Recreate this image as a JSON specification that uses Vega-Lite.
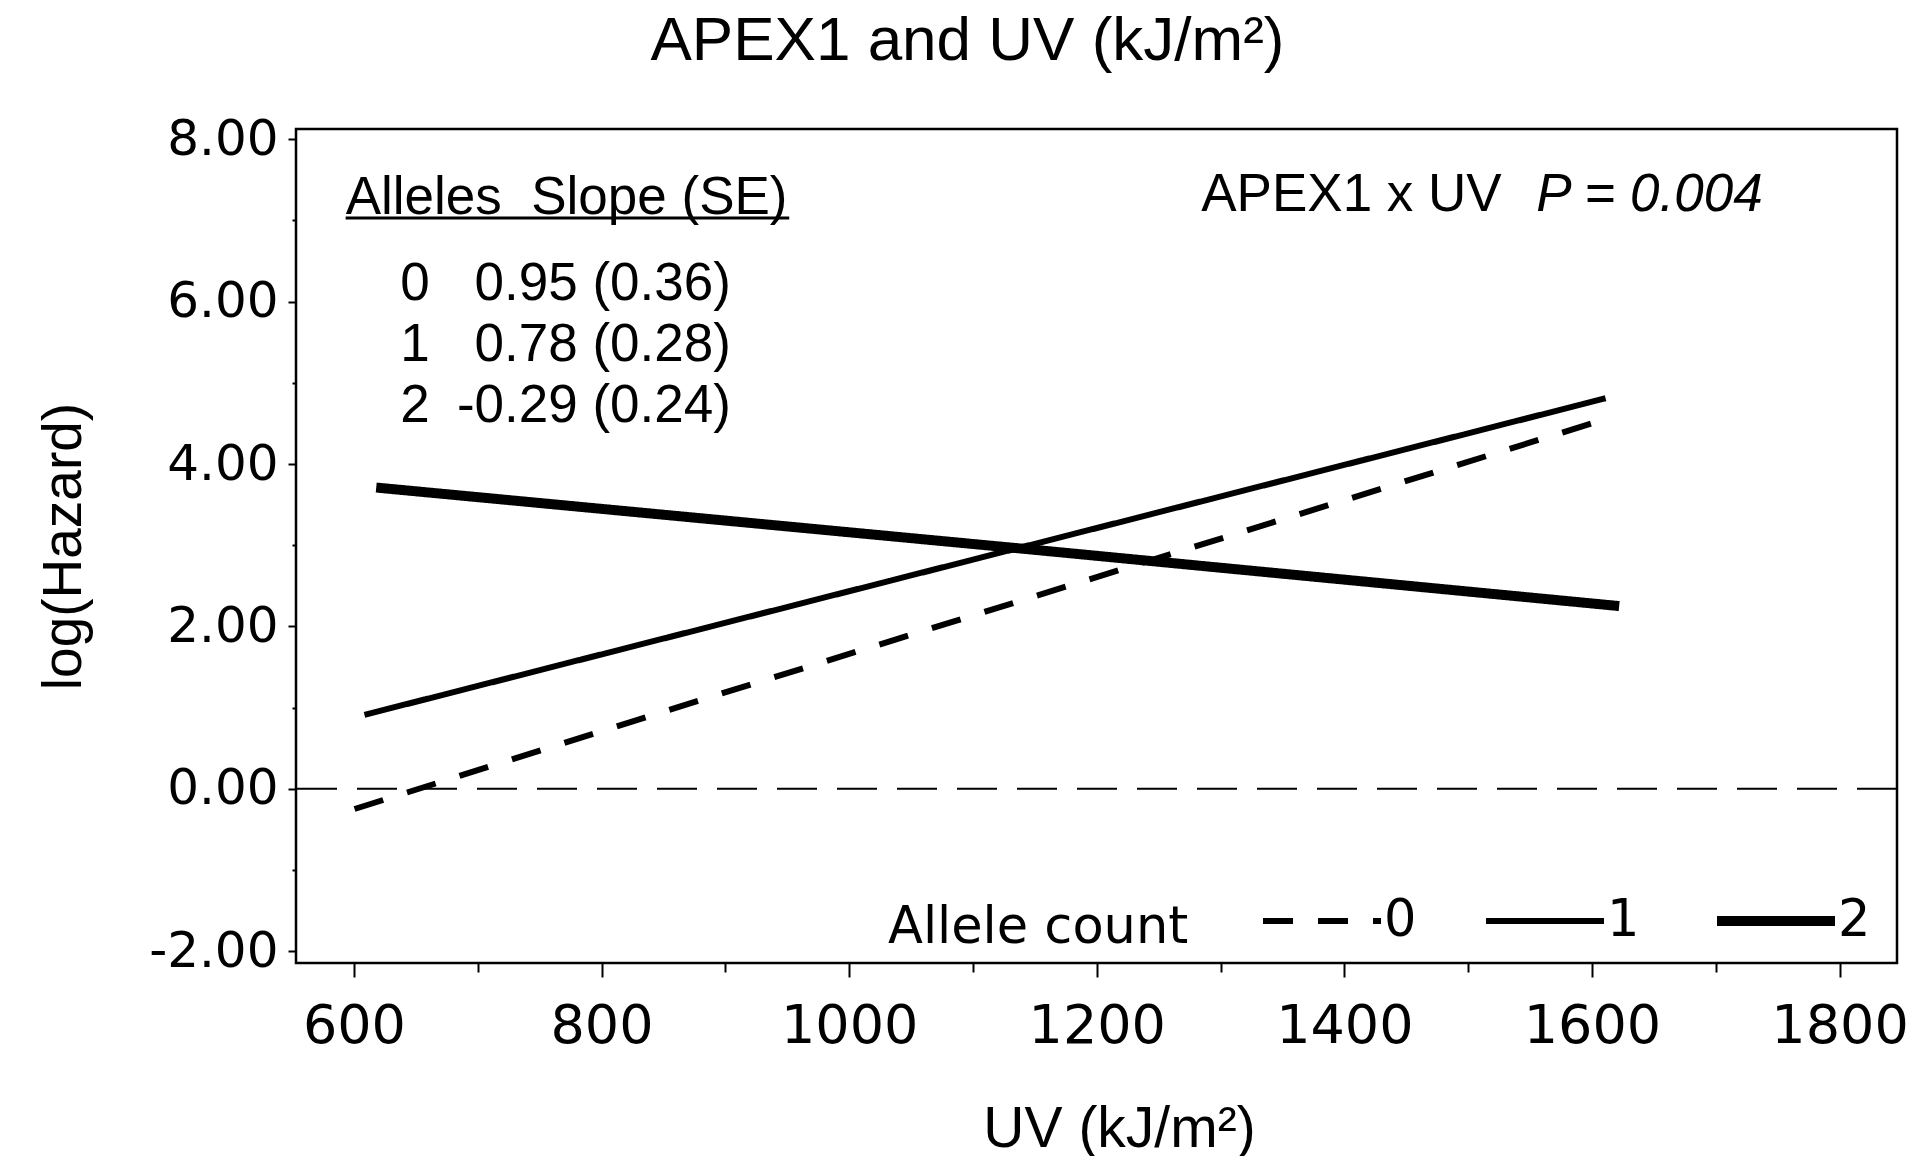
{
  "$schema": "https://vega.github.io/schema/vega-lite/v6.json",
  "autosize": {"type": "none"},
  "width": 1601,
  "height": 834,
  "padding": {"left": 296, "top": 129, "right": 23, "bottom": 193},
  "background": "white",
  "title": {"text": "APEX1 and UV (kJ/m²)", "font": "Liberation Sans", "fontSize": 62, "fontWeight": "normal", "color": "black", "anchor": "middle", "frame": "group", "dx": -129, "baseline": "alphabetic", "offset": -8},
  "config": {
    "view": {"stroke": "black", "strokeWidth": 2.5},
    "axis": {"domain": false, "grid": false, "tickColor": "black", "tickWidth": 2, "labelColor": "black", "titleColor": "black"}
  },
  "data": {"values": [
    {"uv": 600.5, "loghaz": -0.25, "allele": "0"},
    {"uv": 888, "loghaz": 1.13, "allele": "0"},
    {"uv": 1606, "loghaz": 4.53, "allele": "0"},
    {"uv": 608.5, "loghaz": 0.91, "allele": "1"},
    {"uv": 1138, "loghaz": 2.97, "allele": "1"},
    {"uv": 1611, "loghaz": 4.81, "allele": "1"},
    {"uv": 618, "loghaz": 3.71, "allele": "2"},
    {"uv": 1138, "loghaz": 2.96, "allele": "2"},
    {"uv": 1622, "loghaz": 2.25, "allele": "2"}
  ]},
  "layer": [
    {
      "data": {"values": [{}]},
      "mark": {"type": "rule", "strokeDash": [40, 20], "strokeWidth": 2, "color": "black"},
      "encoding": {"y": {"datum": 0, "type": "quantitative"}}
    },
    {
      "mark": {"type": "line", "color": "black", "strokeCap": "butt"},
      "encoding": {
        "x": {"field": "uv", "type": "quantitative",
          "scale": {"domain": [553.2, 1846.4], "nice": false, "zero": false},
          "axis": {"title": "UV (kJ/m²)", "values": [600, 700, 800, 900, 1000, 1100, 1200, 1300, 1400, 1500, 1600, 1700, 1800],
            "format": "d", "labelExpr": "datum.value % 200 === 0 ? datum.label : ''",
            "labelFont": "DejaVu Sans", "labelFontSize": 54, "labelBaseline": "alphabetic", "labelPadding": 65,
            "tickSize": {"condition": {"test": "datum.value % 200 === 0", "value": 14}, "value": 9},
            "titleFont": "Liberation Sans", "titleFontSize": 57, "titleFontWeight": "normal",
            "titleX": 823, "titleY": 183, "titleBaseline": "alphabetic", "titleAlign": "center"}},
        "y": {"field": "loghaz", "type": "quantitative",
          "scale": {"domain": [-2.147, 8.127], "nice": false, "zero": false},
          "axis": {"title": "log(Hazard)", "values": [-2, -1, 0, 1, 2, 3, 4, 5, 6, 7, 8],
            "labelExpr": "datum.value % 2 === 0 ? replace(format(datum.value, '.2f'), '\u2212', '-') : ''",
            "labelFont": "DejaVu Sans", "labelFontSize": 50, "labelPadding": 10,
            "tickSize": {"condition": {"test": "datum.value % 2 === 0", "value": 8}, "value": 4},
            "titleFont": "Liberation Sans", "titleFontSize": 55, "titleFontWeight": "normal",
            "titleX": -216, "titleY": 417, "titleAngle": 270, "titleBaseline": "alphabetic", "titleAlign": "center"}},
        "strokeDash": {"field": "allele", "type": "ordinal",
          "scale": {"domain": ["0", "1", "2"], "range": [[30, 25], [1, 0], [1, 0]]},
          "legend": {"title": "Allele count", "orient": "none", "legendX": 592, "legendY": 730, "direction": "horizontal",
            "titleOrient": "left", "titleFont": "DejaVu Sans", "titleFontSize": 51, "titleFontWeight": "normal", "titleColor": "black",
            "titlePadding": 71, "titleBaseline": "top", "titleAnchor": "middle", "titleLimit": 1000,
            "labelFont": "DejaVu Sans", "labelFontSize": 51, "labelColor": "black", "labelOffset": 0,
            "symbolType": "stroke", "symbolSize": 13924, "symbolStrokeColor": "black", "columnPadding": 57, "padding": 0,
            "encode": {"symbols": {"update": {"strokeWidth": {"signal": "(datum.value === '2' ? 10 : 6)"}}}}}},
        "strokeWidth": {"condition": {"test": "datum.allele === '2'", "value": 10}, "value": 6}
      }
    },
    {
      "data": {"values": [{}]},
      "mark": {"type": "text", "text": "Alleles\u00a0 Slope (SE)", "font": "Liberation Sans", "fontSize": 53, "align": "left", "baseline": "alphabetic", "color": "black"},
      "encoding": {"x": {"datum": 593.3, "type": "quantitative"}, "y": {"datum": 7.077, "type": "quantitative"}}
    },
    {
      "data": {"values": [{}]},
      "mark": {"type": "rule", "strokeWidth": 3, "color": "black"},
      "encoding": {"x": {"datum": 593.3, "type": "quantitative"}, "x2": {"datum": 951.6}, "y": {"datum": 7.03, "type": "quantitative"}}
    },
    {
      "data": {"values": [{}]},
      "mark": {"type": "text", "text": ["0", "1", "2"], "lineHeight": 60.85, "font": "Liberation Sans", "fontSize": 53, "align": "center", "baseline": "alphabetic", "color": "black"},
      "encoding": {"x": {"datum": 649.4, "type": "quantitative"}, "y": {"datum": 6.022, "type": "quantitative"}}
    },
    {
      "data": {"values": [{}]},
      "mark": {"type": "text", "text": ["0.95 (0.36)", "0.78 (0.28)", "-0.29 (0.24)"], "lineHeight": 60.85, "font": "Liberation Sans", "fontSize": 53, "align": "right", "baseline": "alphabetic", "color": "black"},
      "encoding": {"x": {"datum": 904.5, "type": "quantitative"}, "y": {"datum": 6.022, "type": "quantitative"}}
    },
    {
      "data": {"values": [{}]},
      "mark": {"type": "text", "text": "APEX1 x UV", "font": "Liberation Sans", "fontSize": 53, "align": "left", "baseline": "alphabetic", "color": "black"},
      "encoding": {"x": {"datum": 1284.4, "type": "quantitative"}, "y": {"datum": 7.118, "type": "quantitative"}}
    },
    {
      "data": {"values": [{}]},
      "mark": {"type": "text", "text": "P = 0.004", "font": "Liberation Sans", "fontSize": 53, "fontStyle": "italic", "align": "left", "baseline": "alphabetic", "color": "black"},
      "encoding": {"x": {"datum": 1555, "type": "quantitative"}, "y": {"datum": 7.118, "type": "quantitative"}}
    }
  ]
}
